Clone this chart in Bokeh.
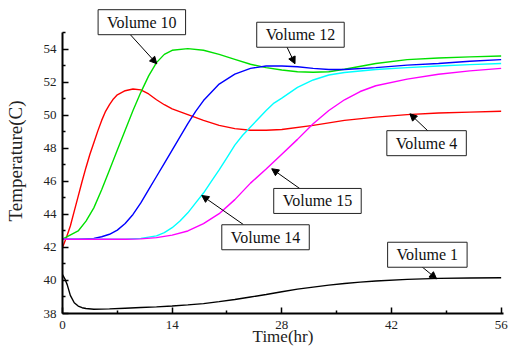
from bokeh.plotting import figure
from bokeh.models import Range1d, FixedTicker, Label, Arrow, NormalHead
from bokeh.embed import file_html
from bokeh.resources import INLINE

# ---- data ----
v4_t = [0, 0.5, 1, 1.5, 2, 2.5, 3, 3.5, 4, 4.5, 5, 5.5, 6, 6.5, 7, 8, 9, 10, 11, 12, 13, 14, 16, 18, 20, 22, 24, 26,
        28, 32, 36, 40, 44, 48, 52, 56]
v4_y = [42.0, 42.6, 43.3, 44.2, 45.1, 46.0, 46.85, 47.65, 48.35, 49.05, 49.7, 50.25, 50.65, 51.0, 51.25, 51.5, 51.6,
        51.55, 51.3, 50.95, 50.65, 50.4, 50.05, 49.7, 49.4, 49.2, 49.1, 49.1, 49.15, 49.4, 49.7, 49.9, 50.05, 50.15,
        50.2, 50.25]

v10_t = [0, 2, 3, 4, 5, 6, 7, 8, 9, 10, 11, 12, 13, 14, 16, 18, 20, 22, 24, 26, 28, 30, 32, 34, 36, 40, 44, 48, 52, 56]
v10_y = [42.5, 43.0, 43.6, 44.4, 45.5, 46.7, 47.9, 49.1, 50.3, 51.4, 52.4, 53.2, 53.7, 53.95, 54.05, 53.95, 53.7,
         53.4, 53.1, 52.9, 52.75, 52.65, 52.62, 52.65, 52.8, 53.15, 53.38, 53.48, 53.55, 53.6]

v12_t = [0, 2, 4, 5, 6, 7, 8, 9, 10, 11, 12, 13, 14, 15, 16, 17, 18, 20, 22, 24, 26, 28, 30, 32, 34, 36, 40, 44, 48,
         52, 56]
v12_y = [42.5, 42.5, 42.55, 42.65, 42.8, 43.05, 43.45, 44.0, 44.7, 45.5, 46.3, 47.1, 47.9, 48.7, 49.5, 50.25, 50.9,
         51.9, 52.5, 52.85, 53.0, 53.0, 52.95, 52.85, 52.78, 52.78, 52.9, 53.05, 53.15, 53.28, 53.38]

v14_t = [0, 4, 8, 10, 12, 13, 14, 15, 16, 17, 18, 19, 20, 21, 22, 23, 24, 25, 26, 27, 28, 30, 32, 34, 36, 40, 44, 48,
         52, 56]
v14_y = [42.5, 42.5, 42.5, 42.55, 42.7, 42.9, 43.2, 43.6, 44.1, 44.7, 45.3, 46.0, 46.7, 47.45, 48.2, 48.8, 49.3, 49.8,
         50.3, 50.75, 51.05, 51.7, 52.15, 52.45, 52.6, 52.78, 52.9, 53.0, 53.08, 53.15]

v15_t = [0, 4, 8, 10, 12, 14, 16, 18, 20, 22, 24, 26, 28, 30, 32, 34, 36, 38, 40, 44, 48, 52, 56]
v15_y = [42.5, 42.5, 42.5, 42.52, 42.6, 42.75, 43.0, 43.45, 44.05, 44.9, 45.9, 46.75, 47.65, 48.55, 49.5, 50.3,
         50.95, 51.45, 51.8, 52.2, 52.5, 52.7, 52.85]

v1_t = [0, 0.3, 0.6, 1, 1.5, 2, 2.5, 3, 4, 6, 8, 10, 12, 14, 16, 18, 20, 22, 24, 26, 28, 30, 32, 34, 36, 38, 40, 44,
        48, 52, 56]
v1_y = [40.35, 40.1, 39.75, 39.1, 38.65, 38.45, 38.35, 38.3, 38.26, 38.28, 38.32, 38.36, 38.4, 38.45, 38.52, 38.6,
        38.72, 38.85, 39.0, 39.15, 39.32, 39.48, 39.6, 39.72, 39.82, 39.9, 39.97, 40.07, 40.13, 40.15, 40.17]

x_ticks = [0, 14, 28, 42, 56]
x_minor = [7, 21, 35, 49]
y_ticks = [38, 40, 42, 44, 46, 48, 50, 52, 54]
y_minor = [39, 41, 43, 45, 47, 49, 51, 53, 55]

FONT = "Liberation Serif"
LABEL_FONT = "'Liberation Serif'"

p = figure(frame_width=441, frame_height=305, output_backend="svg", toolbar_location=None,
           x_range=Range1d(0, 56.3), y_range=Range1d(38, 56.48),
           min_border_left=62, min_border_top=8, min_border_right=6, min_border_bottom=34)
p.outline_line_color = None
p.grid.visible = False
p.background_fill_color = "white"

series = [
    (v4_t, v4_y, "#ff0000"),
    (v10_t, v10_y, "#00e000"),
    (v12_t, v12_y, "#0000ff"),
    (v14_t, v14_y, "#00ffff"),
    (v15_t, v15_y, "#ff00ff"),
    (v1_t, v1_y, "#000000"),
]
for t, y, c in series:
    p.line(t, y, line_color=c, line_width=1.4)

p.xaxis.ticker = FixedTicker(ticks=x_ticks, minor_ticks=x_minor)
p.yaxis.ticker = FixedTicker(ticks=y_ticks, minor_ticks=y_minor)
p.yaxis.bounds = (38, 55)
p.xaxis.axis_label = "Time(hr)"
p.yaxis.axis_label = "Temperature(C)"
for ax in (p.xaxis, p.yaxis):
    ax.axis_line_width = 2
    ax.axis_line_color = "black"
    ax.major_tick_in = 6
    ax.major_tick_out = 0
    ax.minor_tick_in = 3
    ax.minor_tick_out = 0
    ax.major_tick_line_width = 1.5
    ax.minor_tick_line_width = 1.5
    ax.major_tick_line_color = "black"
    ax.minor_tick_line_color = "black"
    ax.major_label_text_font = LABEL_FONT
    ax.major_label_text_font_size = "13px"
    ax.major_label_text_color = "#222222"
    ax.axis_label_text_font = LABEL_FONT
    ax.axis_label_text_font_style = "normal"
    ax.axis_label_text_color = "#222222"
p.xaxis.axis_label_text_font_size = "17px"
p.yaxis.axis_label_text_font_size = "19px"
p.xaxis.major_label_standoff = 7
p.xaxis.axis_label_standoff = -5
p.yaxis.major_label_standoff = 6
p.yaxis.axis_label_standoff = 15

# annotation boxes: (text, box centre x, box centre y, arrow start, arrow end)
notes = [
    ("Volume 10", 10.13, 55.65, (8.63, 54.91), (12.04, 53.13)),
    ("Volume 12", 30.38, 54.89, (28.62, 54.18), (29.68, 53.13)),
    ("Volume 15", 32.55, 44.82, (30.32, 45.56), (26.71, 46.77)),
    ("Volume 14", 25.92, 42.62, (23.09, 43.39), (17.78, 45.15)),
    ("Volume 4", 46.48, 48.32, (46.68, 49.05), (44.35, 50.10)),
    ("Volume 1", 46.58, 41.56, (45.84, 40.85), (47.76, 40.10)),
]
for text, cx, cy, (xs, ys), (xe, ye) in notes:
    p.add_layout(Arrow(end=NormalHead(size=7, fill_color="black", line_color="black", line_width=1),
                       x_start=xs, y_start=ys, x_end=xe, y_end=ye, line_width=1, line_color="black"))
    p.add_layout(Label(x=cx, y=cy, text=text, text_font=LABEL_FONT, text_font_size="16px", text_color="#111111",
                       text_align="center", text_baseline="middle",
                       border_line_color="#222222", border_line_width=1,
                       background_fill_color="white", background_fill_alpha=1.0,
                       padding=(9, 4)))

open("out.html", "w").write(file_html(p, INLINE))
